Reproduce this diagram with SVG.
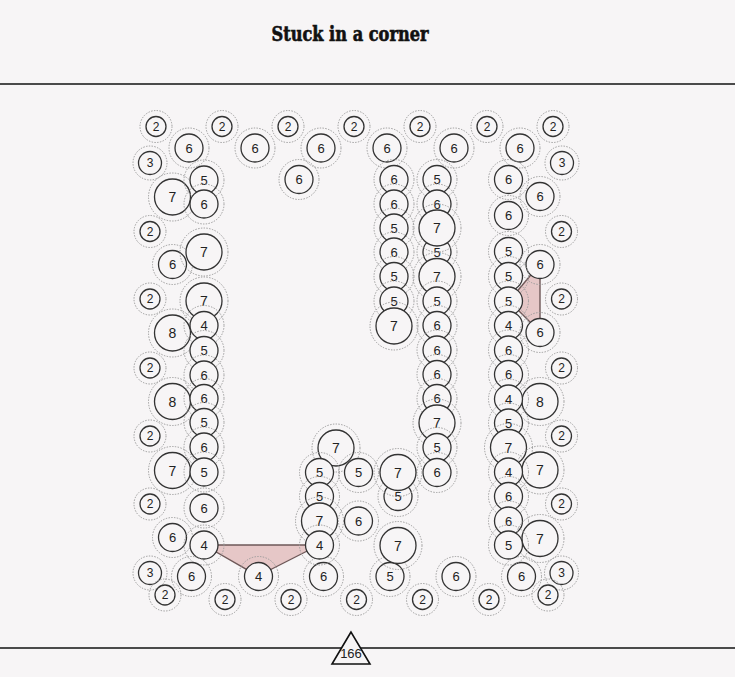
<svg xmlns="http://www.w3.org/2000/svg" width="735" height="677" viewBox="0 0 735 677">
<style>
.bg{fill:#f7f5f6}
.rule{stroke:#111;stroke-width:1.6;fill:none}
.ring{fill:none;stroke:#9a9a9a;stroke-width:1;stroke-dasharray:1.4 1.4}
.c{fill:#f7f5f6;stroke:#333;stroke-width:1.3}
.lbl{font-family:"Liberation Sans",Arial,sans-serif;font-size:13px;text-anchor:middle;dominant-baseline:central;fill:#222}
.s .lbl{font-size:12px}
.b .lbl{font-size:14px}
.zone{fill:#e6c7c7;stroke:#6e5858;stroke-width:1.4;stroke-linejoin:round}
.title{font-family:"DejaVu Serif Condensed","DejaVu Serif",serif;font-weight:bold;font-size:20px;text-anchor:middle;fill:#111;stroke:#111;stroke-width:0.6}
</style>
<rect class="bg" x="0" y="0" width="735" height="677"/>
<text class="title" x="350" y="41" textLength="157" lengthAdjust="spacingAndGlyphs">Stuck in a corner</text>
<line class="rule" x1="0" y1="84" x2="735" y2="84"/>
<line class="rule" x1="0" y1="648" x2="735" y2="648"/>
<g id="connectors">
<polygon class="zone" points="204,545 319,545 258,576"/>
<polygon class="zone" points="509,301 540,264 540,332"/>
</g>
<g id="nodes">
<g id="n1" class="s"><circle class="ring" cx="156" cy="126.5" r="16"/><circle class="c" cx="156" cy="126.5" r="10"/><text class="lbl" x="156" y="126.5">2</text></g>
<g id="n2" class="s"><circle class="ring" cx="222" cy="126.5" r="16"/><circle class="c" cx="222" cy="126.5" r="10"/><text class="lbl" x="222" y="126.5">2</text></g>
<g id="n3" class="s"><circle class="ring" cx="288" cy="126.5" r="16"/><circle class="c" cx="288" cy="126.5" r="10"/><text class="lbl" x="288" y="126.5">2</text></g>
<g id="n4" class="s"><circle class="ring" cx="354" cy="126.5" r="16"/><circle class="c" cx="354" cy="126.5" r="10"/><text class="lbl" x="354" y="126.5">2</text></g>
<g id="n5" class="s"><circle class="ring" cx="420" cy="126.5" r="16"/><circle class="c" cx="420" cy="126.5" r="10"/><text class="lbl" x="420" y="126.5">2</text></g>
<g id="n6" class="s"><circle class="ring" cx="487" cy="126.5" r="16"/><circle class="c" cx="487" cy="126.5" r="10"/><text class="lbl" x="487" y="126.5">2</text></g>
<g id="n7" class="s"><circle class="ring" cx="553" cy="126.5" r="16"/><circle class="c" cx="553" cy="126.5" r="10"/><text class="lbl" x="553" y="126.5">2</text></g>
<g id="n8"><circle class="ring" cx="189" cy="148" r="20"/><circle class="c" cx="189" cy="148" r="14"/><text class="lbl" x="189" y="148">6</text></g>
<g id="n9"><circle class="ring" cx="255" cy="148" r="20"/><circle class="c" cx="255" cy="148" r="14"/><text class="lbl" x="255" y="148">6</text></g>
<g id="n10"><circle class="ring" cx="321" cy="148" r="20"/><circle class="c" cx="321" cy="148" r="14"/><text class="lbl" x="321" y="148">6</text></g>
<g id="n11"><circle class="ring" cx="387" cy="148" r="20"/><circle class="c" cx="387" cy="148" r="14"/><text class="lbl" x="387" y="148">6</text></g>
<g id="n12"><circle class="ring" cx="454" cy="148" r="20"/><circle class="c" cx="454" cy="148" r="14"/><text class="lbl" x="454" y="148">6</text></g>
<g id="n13"><circle class="ring" cx="520" cy="148" r="20"/><circle class="c" cx="520" cy="148" r="14"/><text class="lbl" x="520" y="148">6</text></g>
<g id="n14" class="s"><circle class="ring" cx="150" cy="163" r="17"/><circle class="c" cx="150" cy="163" r="11.5"/><text class="lbl" x="150" y="163">3</text></g>
<g id="n15" class="s"><circle class="ring" cx="562" cy="163" r="17"/><circle class="c" cx="562" cy="163" r="11.5"/><text class="lbl" x="562" y="163">3</text></g>
<g id="n16"><circle class="ring" cx="299" cy="179.5" r="20"/><circle class="c" cx="299" cy="179.5" r="14"/><text class="lbl" x="299" y="179.5">6</text></g>

<g id="n17" class="b"><circle class="ring" cx="172.5" cy="197" r="24"/><circle class="c" cx="172.5" cy="197" r="18"/><text class="lbl" x="172.5" y="197">7</text></g>
<g id="n18"><circle class="ring" cx="204" cy="180" r="20"/><circle class="c" cx="204" cy="180" r="14"/><text class="lbl" x="204" y="180">5</text></g>
<g id="n19"><circle class="ring" cx="204" cy="204" r="20"/><circle class="c" cx="204" cy="204" r="14"/><text class="lbl" x="204" y="204">6</text></g>
<g id="n20" class="s"><circle class="ring" cx="150" cy="231.5" r="16"/><circle class="c" cx="150" cy="231.5" r="10"/><text class="lbl" x="150" y="231.5">2</text></g>
<g id="n21"><circle class="ring" cx="172.5" cy="264.5" r="20"/><circle class="c" cx="172.5" cy="264.5" r="14"/><text class="lbl" x="172.5" y="264.5">6</text></g>
<g id="n22" class="b"><circle class="ring" cx="204" cy="252" r="24"/><circle class="c" cx="204" cy="252" r="18"/><text class="lbl" x="204" y="252">7</text></g>
<g id="n23" class="s"><circle class="ring" cx="150" cy="299" r="16"/><circle class="c" cx="150" cy="299" r="10"/><text class="lbl" x="150" y="299">2</text></g>
<g id="n24" class="b"><circle class="ring" cx="204" cy="301" r="24"/><circle class="c" cx="204" cy="301" r="18"/><text class="lbl" x="204" y="301">7</text></g>
<g id="n25" class="b"><circle class="ring" cx="172.5" cy="333" r="24"/><circle class="c" cx="172.5" cy="333" r="18"/><text class="lbl" x="172.5" y="333">8</text></g>
<g id="n26"><circle class="ring" cx="204" cy="325.5" r="20"/><circle class="c" cx="204" cy="325.5" r="14"/><text class="lbl" x="204" y="325.5">4</text></g>
<g id="n27"><circle class="ring" cx="204" cy="350.5" r="20"/><circle class="c" cx="204" cy="350.5" r="14"/><text class="lbl" x="204" y="350.5">5</text></g>
<g id="n28" class="s"><circle class="ring" cx="150" cy="368" r="16"/><circle class="c" cx="150" cy="368" r="10"/><text class="lbl" x="150" y="368">2</text></g>
<g id="n29"><circle class="ring" cx="204" cy="375" r="20"/><circle class="c" cx="204" cy="375" r="14"/><text class="lbl" x="204" y="375">6</text></g>
<g id="n30" class="b"><circle class="ring" cx="172.5" cy="401.5" r="24"/><circle class="c" cx="172.5" cy="401.5" r="18"/><text class="lbl" x="172.5" y="401.5">8</text></g>
<g id="n31"><circle class="ring" cx="204" cy="398.5" r="20"/><circle class="c" cx="204" cy="398.5" r="14"/><text class="lbl" x="204" y="398.5">6</text></g>
<g id="n32"><circle class="ring" cx="204" cy="422.5" r="20"/><circle class="c" cx="204" cy="422.5" r="14"/><text class="lbl" x="204" y="422.5">5</text></g>
<g id="n33" class="s"><circle class="ring" cx="150" cy="436" r="16"/><circle class="c" cx="150" cy="436" r="10"/><text class="lbl" x="150" y="436">2</text></g>
<g id="n34"><circle class="ring" cx="204" cy="447" r="20"/><circle class="c" cx="204" cy="447" r="14"/><text class="lbl" x="204" y="447">6</text></g>
<g id="n35" class="b"><circle class="ring" cx="172.5" cy="470.5" r="24"/><circle class="c" cx="172.5" cy="470.5" r="18"/><text class="lbl" x="172.5" y="470.5">7</text></g>
<g id="n36"><circle class="ring" cx="204" cy="472" r="20"/><circle class="c" cx="204" cy="472" r="14"/><text class="lbl" x="204" y="472">5</text></g>
<g id="n37" class="s"><circle class="ring" cx="150" cy="504" r="16"/><circle class="c" cx="150" cy="504" r="10"/><text class="lbl" x="150" y="504">2</text></g>
<g id="n38"><circle class="ring" cx="204" cy="508" r="20"/><circle class="c" cx="204" cy="508" r="14"/><text class="lbl" x="204" y="508">6</text></g>
<g id="n39"><circle class="ring" cx="172.5" cy="537.5" r="20"/><circle class="c" cx="172.5" cy="537.5" r="14"/><text class="lbl" x="172.5" y="537.5">6</text></g>
<g id="n40"><circle class="ring" cx="204" cy="545" r="20"/><circle class="c" cx="204" cy="545" r="14"/><text class="lbl" x="204" y="545">4</text></g>
<g id="n41" class="s"><circle class="ring" cx="150" cy="573" r="17"/><circle class="c" cx="150" cy="573" r="11.5"/><text class="lbl" x="150" y="573">3</text></g>
<g id="n42"><circle class="ring" cx="191.5" cy="576.5" r="20"/><circle class="c" cx="191.5" cy="576.5" r="14"/><text class="lbl" x="191.5" y="576.5">6</text></g>
<g id="n43" class="s"><circle class="ring" cx="165" cy="595" r="16"/><circle class="c" cx="165" cy="595" r="10"/><text class="lbl" x="165" y="595">2</text></g>
<g id="n44"><circle class="ring" cx="258.5" cy="576.5" r="20"/><circle class="c" cx="258.5" cy="576.5" r="14"/><text class="lbl" x="258.5" y="576.5">4</text></g>
<g id="n45" class="s"><circle class="ring" cx="225" cy="599.5" r="16"/><circle class="c" cx="225" cy="599.5" r="10"/><text class="lbl" x="225" y="599.5">2</text></g>
<g id="n46" class="s"><circle class="ring" cx="291" cy="599.5" r="16"/><circle class="c" cx="291" cy="599.5" r="10"/><text class="lbl" x="291" y="599.5">2</text></g>
<g id="n47"><circle class="ring" cx="323.5" cy="576.5" r="20"/><circle class="c" cx="323.5" cy="576.5" r="14"/><text class="lbl" x="323.5" y="576.5">6</text></g>
<g id="n48" class="s"><circle class="ring" cx="356.5" cy="599.5" r="16"/><circle class="c" cx="356.5" cy="599.5" r="10"/><text class="lbl" x="356.5" y="599.5">2</text></g>
<g id="n49"><circle class="ring" cx="390" cy="576.5" r="20"/><circle class="c" cx="390" cy="576.5" r="14"/><text class="lbl" x="390" y="576.5">5</text></g>
<g id="n50" class="s"><circle class="ring" cx="422.5" cy="599.5" r="16"/><circle class="c" cx="422.5" cy="599.5" r="10"/><text class="lbl" x="422.5" y="599.5">2</text></g>
<g id="n51"><circle class="ring" cx="456" cy="576.5" r="20"/><circle class="c" cx="456" cy="576.5" r="14"/><text class="lbl" x="456" y="576.5">6</text></g>
<g id="n52" class="s"><circle class="ring" cx="489" cy="599.5" r="16"/><circle class="c" cx="489" cy="599.5" r="10"/><text class="lbl" x="489" y="599.5">2</text></g>
<g id="n53"><circle class="ring" cx="521.5" cy="576.5" r="20"/><circle class="c" cx="521.5" cy="576.5" r="14"/><text class="lbl" x="521.5" y="576.5">6</text></g>
<g id="n54" class="s"><circle class="ring" cx="561.5" cy="573" r="17"/><circle class="c" cx="561.5" cy="573" r="11.5"/><text class="lbl" x="561.5" y="573">3</text></g>
<g id="n55" class="s"><circle class="ring" cx="548" cy="595" r="16"/><circle class="c" cx="548" cy="595" r="10"/><text class="lbl" x="548" y="595">2</text></g>

<g id="n56"><circle class="ring" cx="394" cy="179.5" r="20"/><circle class="c" cx="394" cy="179.5" r="14"/><text class="lbl" x="394" y="179.5">6</text></g>
<g id="n57"><circle class="ring" cx="394" cy="204" r="20"/><circle class="c" cx="394" cy="204" r="14"/><text class="lbl" x="394" y="204">6</text></g>
<g id="n58"><circle class="ring" cx="394" cy="228" r="20"/><circle class="c" cx="394" cy="228" r="14"/><text class="lbl" x="394" y="228">5</text></g>
<g id="n59"><circle class="ring" cx="394" cy="252" r="20"/><circle class="c" cx="394" cy="252" r="14"/><text class="lbl" x="394" y="252">6</text></g>
<g id="n60"><circle class="ring" cx="394" cy="276.5" r="20"/><circle class="c" cx="394" cy="276.5" r="14"/><text class="lbl" x="394" y="276.5">5</text></g>
<g id="n61"><circle class="ring" cx="394" cy="301" r="20"/><circle class="c" cx="394" cy="301" r="14"/><text class="lbl" x="394" y="301">5</text></g>
<g id="n62" class="b"><circle class="ring" cx="394" cy="326" r="24"/><circle class="c" cx="394" cy="326" r="18"/><text class="lbl" x="394" y="326">7</text></g>

<g id="n63"><circle class="ring" cx="437" cy="179.5" r="20"/><circle class="c" cx="437" cy="179.5" r="14"/><text class="lbl" x="437" y="179.5">5</text></g>
<g id="n64"><circle class="ring" cx="437" cy="204" r="20"/><circle class="c" cx="437" cy="204" r="14"/><text class="lbl" x="437" y="204">6</text></g>
<g id="n65"><circle class="ring" cx="437" cy="252" r="20"/><circle class="c" cx="437" cy="252" r="14"/><text class="lbl" x="437" y="252">5</text></g>
<g id="n66" class="b"><circle class="ring" cx="437" cy="228" r="24"/><circle class="c" cx="437" cy="228" r="18"/><text class="lbl" x="437" y="228">7</text></g>
<g id="n67" class="b"><circle class="ring" cx="437" cy="276.5" r="24"/><circle class="c" cx="437" cy="276.5" r="18"/><text class="lbl" x="437" y="276.5">7</text></g>
<g id="n68"><circle class="ring" cx="437" cy="301" r="20"/><circle class="c" cx="437" cy="301" r="14"/><text class="lbl" x="437" y="301">5</text></g>
<g id="n69"><circle class="ring" cx="437" cy="325.5" r="20"/><circle class="c" cx="437" cy="325.5" r="14"/><text class="lbl" x="437" y="325.5">6</text></g>
<g id="n70"><circle class="ring" cx="437" cy="350" r="20"/><circle class="c" cx="437" cy="350" r="14"/><text class="lbl" x="437" y="350">6</text></g>
<g id="n71"><circle class="ring" cx="437" cy="374.5" r="20"/><circle class="c" cx="437" cy="374.5" r="14"/><text class="lbl" x="437" y="374.5">6</text></g>
<g id="n72"><circle class="ring" cx="437" cy="398.5" r="20"/><circle class="c" cx="437" cy="398.5" r="14"/><text class="lbl" x="437" y="398.5">6</text></g>
<g id="n73" class="b"><circle class="ring" cx="437" cy="423" r="24"/><circle class="c" cx="437" cy="423" r="18"/><text class="lbl" x="437" y="423">7</text></g>
<g id="n74"><circle class="ring" cx="437" cy="447.5" r="20"/><circle class="c" cx="437" cy="447.5" r="14"/><text class="lbl" x="437" y="447.5">5</text></g>
<g id="n75"><circle class="ring" cx="437" cy="472.5" r="20"/><circle class="c" cx="437" cy="472.5" r="14"/><text class="lbl" x="437" y="472.5">6</text></g>

<g id="n76" class="b"><circle class="ring" cx="336" cy="448" r="24"/><circle class="c" cx="336" cy="448" r="18"/><text class="lbl" x="336" y="448">7</text></g>
<g id="n77"><circle class="ring" cx="319.5" cy="472.5" r="20"/><circle class="c" cx="319.5" cy="472.5" r="14"/><text class="lbl" x="319.5" y="472.5">5</text></g>
<g id="n78"><circle class="ring" cx="358.5" cy="472.5" r="20"/><circle class="c" cx="358.5" cy="472.5" r="14"/><text class="lbl" x="358.5" y="472.5">5</text></g>
<g id="n79"><circle class="ring" cx="398" cy="496.5" r="20"/><circle class="c" cx="398" cy="496.5" r="14"/><text class="lbl" x="398" y="496.5">5</text></g>
<g id="n80" class="b"><circle class="ring" cx="398" cy="472.5" r="24"/><circle class="c" cx="398" cy="472.5" r="18"/><text class="lbl" x="398" y="472.5">7</text></g>
<g id="n81"><circle class="ring" cx="319.5" cy="496.5" r="20"/><circle class="c" cx="319.5" cy="496.5" r="14"/><text class="lbl" x="319.5" y="496.5">5</text></g>
<g id="n82" class="b"><circle class="ring" cx="319.5" cy="521" r="24"/><circle class="c" cx="319.5" cy="521" r="18"/><text class="lbl" x="319.5" y="521">7</text></g>
<g id="n83"><circle class="ring" cx="358.5" cy="521" r="20"/><circle class="c" cx="358.5" cy="521" r="14"/><text class="lbl" x="358.5" y="521">6</text></g>
<g id="n84"><circle class="ring" cx="319.5" cy="545" r="20"/><circle class="c" cx="319.5" cy="545" r="14"/><text class="lbl" x="319.5" y="545">4</text></g>
<g id="n85" class="b"><circle class="ring" cx="398" cy="545.5" r="24"/><circle class="c" cx="398" cy="545.5" r="18"/><text class="lbl" x="398" y="545.5">7</text></g>

<g id="n86"><circle class="ring" cx="508.5" cy="179.5" r="20"/><circle class="c" cx="508.5" cy="179.5" r="14"/><text class="lbl" x="508.5" y="179.5">6</text></g>
<g id="n87"><circle class="ring" cx="540" cy="196.5" r="20"/><circle class="c" cx="540" cy="196.5" r="14"/><text class="lbl" x="540" y="196.5">6</text></g>
<g id="n88"><circle class="ring" cx="508.5" cy="215.5" r="20"/><circle class="c" cx="508.5" cy="215.5" r="14"/><text class="lbl" x="508.5" y="215.5">6</text></g>
<g id="n89" class="s"><circle class="ring" cx="561.5" cy="231.5" r="16"/><circle class="c" cx="561.5" cy="231.5" r="10"/><text class="lbl" x="561.5" y="231.5">2</text></g>
<g id="n90"><circle class="ring" cx="508.5" cy="251.5" r="20"/><circle class="c" cx="508.5" cy="251.5" r="14"/><text class="lbl" x="508.5" y="251.5">5</text></g>
<g id="n91"><circle class="ring" cx="540" cy="264.5" r="20"/><circle class="c" cx="540" cy="264.5" r="14"/><text class="lbl" x="540" y="264.5">6</text></g>
<g id="n92"><circle class="ring" cx="508.5" cy="276.5" r="20"/><circle class="c" cx="508.5" cy="276.5" r="14"/><text class="lbl" x="508.5" y="276.5">5</text></g>
<g id="n93" class="s"><circle class="ring" cx="561.5" cy="299" r="16"/><circle class="c" cx="561.5" cy="299" r="10"/><text class="lbl" x="561.5" y="299">2</text></g>
<g id="n94"><circle class="ring" cx="508.5" cy="301" r="20"/><circle class="c" cx="508.5" cy="301" r="14"/><text class="lbl" x="508.5" y="301">5</text></g>
<g id="n95"><circle class="ring" cx="508.5" cy="325.5" r="20"/><circle class="c" cx="508.5" cy="325.5" r="14"/><text class="lbl" x="508.5" y="325.5">4</text></g>
<g id="n96"><circle class="ring" cx="540" cy="332.5" r="20"/><circle class="c" cx="540" cy="332.5" r="14"/><text class="lbl" x="540" y="332.5">6</text></g>
<g id="n97"><circle class="ring" cx="508.5" cy="350" r="20"/><circle class="c" cx="508.5" cy="350" r="14"/><text class="lbl" x="508.5" y="350">6</text></g>
<g id="n98" class="s"><circle class="ring" cx="561.5" cy="368" r="16"/><circle class="c" cx="561.5" cy="368" r="10"/><text class="lbl" x="561.5" y="368">2</text></g>
<g id="n99"><circle class="ring" cx="508.5" cy="374.5" r="20"/><circle class="c" cx="508.5" cy="374.5" r="14"/><text class="lbl" x="508.5" y="374.5">6</text></g>
<g id="n100" class="b"><circle class="ring" cx="540" cy="401.5" r="24"/><circle class="c" cx="540" cy="401.5" r="18"/><text class="lbl" x="540" y="401.5">8</text></g>
<g id="n101"><circle class="ring" cx="508.5" cy="399" r="20"/><circle class="c" cx="508.5" cy="399" r="14"/><text class="lbl" x="508.5" y="399">4</text></g>
<g id="n102"><circle class="ring" cx="508.5" cy="423" r="20"/><circle class="c" cx="508.5" cy="423" r="14"/><text class="lbl" x="508.5" y="423">5</text></g>
<g id="n103" class="s"><circle class="ring" cx="561.5" cy="436" r="16"/><circle class="c" cx="561.5" cy="436" r="10"/><text class="lbl" x="561.5" y="436">2</text></g>
<g id="n104" class="b"><circle class="ring" cx="508.5" cy="447.5" r="24"/><circle class="c" cx="508.5" cy="447.5" r="18"/><text class="lbl" x="508.5" y="447.5">7</text></g>
<g id="n105" class="b"><circle class="ring" cx="540" cy="470" r="24"/><circle class="c" cx="540" cy="470" r="18"/><text class="lbl" x="540" y="470">7</text></g>
<g id="n106"><circle class="ring" cx="508.5" cy="472" r="20"/><circle class="c" cx="508.5" cy="472" r="14"/><text class="lbl" x="508.5" y="472">4</text></g>
<g id="n107" class="s"><circle class="ring" cx="561.5" cy="504" r="16"/><circle class="c" cx="561.5" cy="504" r="10"/><text class="lbl" x="561.5" y="504">2</text></g>
<g id="n108"><circle class="ring" cx="508.5" cy="496.5" r="20"/><circle class="c" cx="508.5" cy="496.5" r="14"/><text class="lbl" x="508.5" y="496.5">6</text></g>
<g id="n109"><circle class="ring" cx="508.5" cy="521" r="20"/><circle class="c" cx="508.5" cy="521" r="14"/><text class="lbl" x="508.5" y="521">6</text></g>
<g id="n110" class="b"><circle class="ring" cx="540" cy="538.5" r="24"/><circle class="c" cx="540" cy="538.5" r="18"/><text class="lbl" x="540" y="538.5">7</text></g>
<g id="n111"><circle class="ring" cx="508.5" cy="545" r="20"/><circle class="c" cx="508.5" cy="545" r="14"/><text class="lbl" x="508.5" y="545">5</text></g>
</g>
<g id="marker">
<polygon points="351,632 332,664 370,664" fill="#f7f5f6" stroke="#111" stroke-width="1.6" stroke-linejoin="miter"/>
<text class="lbl" x="351" y="653" style="font-size:13px">166</text>
</g>
</svg>
